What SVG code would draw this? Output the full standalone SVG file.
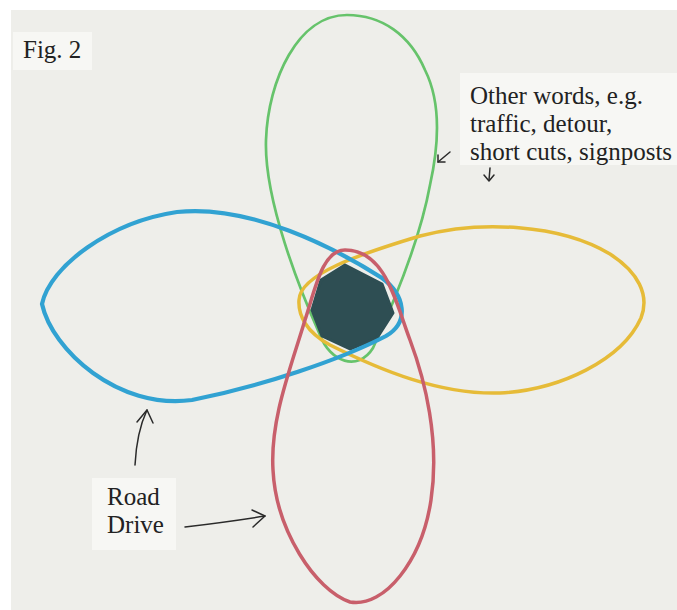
<svg xmlns="http://www.w3.org/2000/svg" width="677" height="610" viewBox="0 0 677 610">
<style>
.petal{fill:none;stroke-linejoin:round;stroke-linecap:round}
.lbl{font-family:"Liberation Serif","Times New Roman",serif;font-size:25px;fill:#222222}
.box{fill:#f7f7f4}
.arr{fill:none;stroke:#2a2a2a;stroke-width:1.5;stroke-linecap:round;stroke-linejoin:round}
</style>
<rect x="0" y="0" width="677" height="610" fill="#ffffff"/>
<rect x="11" y="10" width="666" height="600" fill="#eeeeea"/>
<g id="petal-green">
<path class="petal" stroke="#66c36b" stroke-width="2.7" d="M347,15 C298,15 268,80 266,140 C264,200 300,290 320,335 C330,362 358,372 373,348 C395,300 420,240 430,185 C440,140 440,100 425,70 C410,35 382,15 347,15 Z"/>
</g>
<g id="petal-yellow">
<path class="petal" stroke="#e6bb38" stroke-width="3.5" d="M299,300 C300,274 360,254 420,236 C480,220 560,224 610,254 C638,272 650,295 641,318 C622,360 560,390 500,393 C440,395 380,370 330,345 C306,332 298,315 299,300 Z"/>
</g>
<g id="center">
<polygon points="345,265 382,284 393,313 377,338 350,349 322,336 312,310 321,280" fill="#2e4e53" stroke="#2e4e53" stroke-width="3" stroke-linejoin="round"/>
</g>
<g id="petal-blue">
<path class="petal" stroke="#31a2d2" stroke-width="4.2" d="M42,304 C50,266 110,222 177,212 C250,204 335,248 382,278 C405,295 410,322 386,336 C340,360 262,386 192,400 C118,410 52,350 42,304 Z"/>
</g>
<g id="petal-red">
<path class="petal" stroke="#c85f6b" stroke-width="3.5" d="M345,250 C322,250 315,290 305,320 C290,370 270,420 273,470 C276,530 315,590 350,602 C385,608 422,560 431,500 C440,440 425,380 410,340 C395,300 385,250 345,250 Z"/>
</g>
<g id="label-fig">
<rect class="box" x="13" y="32" width="79" height="38"/>
<text class="lbl" x="23" y="58">Fig. 2</text>
</g>
<g id="label-other">
<rect class="box" x="460" y="73" width="217" height="92"/>
<text class="lbl" x="470" y="104">Other words, e.g.</text>
<text class="lbl" x="470" y="132">traffic, detour,</text>
<text class="lbl" x="470" y="160">short cuts, signposts</text>
</g>
<g id="label-road">
<rect class="box" x="92" y="478" width="84" height="72"/>
<text class="lbl" x="107" y="505">Road</text>
<text class="lbl" x="107" y="533">Drive</text>
</g>
<g id="connectors">
<path class="arr" d="M135,465 C136,445 140,425 147,410"/>
<path class="arr" d="M137,422 L147,410 L153,423"/>
<path class="arr" d="M185,527 C210,524 240,520 265,516"/>
<path class="arr" d="M252,510 L265,516 L253,527"/>
<path class="arr" d="M450,152 L438,162"/>
<path class="arr" d="M438,155 L438,162 L445,162"/>
<path class="arr" d="M490,168 L489,180"/>
<path class="arr" d="M484,175 L489,181 L494,175"/>
</g>
</svg>
